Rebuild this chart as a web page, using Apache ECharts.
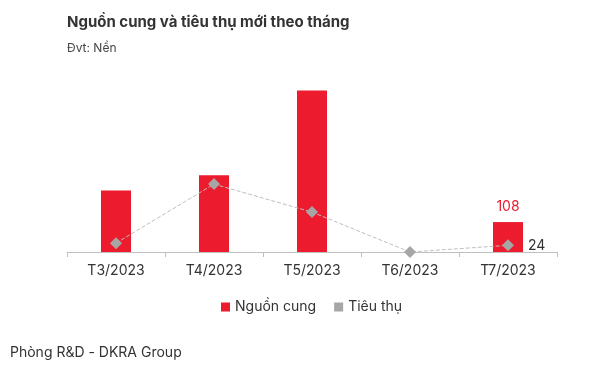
<!DOCTYPE html>
<html><head><meta charset="utf-8">
<script src="https://cdn.jsdelivr.net/npm/echarts@6/dist/echarts.min.js"></script>
<style>html,body{margin:0;padding:0;background:#fff}#c{width:606px;height:379px}</style>
</head><body><div id="c"></div>
<script>
const categories = ['T3/2023','T4/2023','T5/2023','T6/2023','T7/2023'];
const supply = [222, 277, 583, 0, 108];
const consumption = [32, 245, 144, 0, 24];
const labelIndex = 4;

const chart = echarts.init(document.getElementById('c'), null, {renderer:'canvas'});
const F = 'Inter, "Noto Sans", sans-serif';
chart.setOption({
  animation:false,
  textStyle:{fontFamily:F},
  title:[
    {text:'Nguồn cung và tiêu thụ mới theo tháng', left:62, top:10, textStyle:{fontFamily:F,fontSize:15,fontWeight:'bold',color:'#333'}},
    {text:'Đvt: Nền', left:62, top:37, textStyle:{fontFamily:F,fontSize:12,fontWeight:'normal',color:'#444'}},
    {text:'Phòng R&D - DKRA Group', left:5, top:341, textStyle:{fontFamily:F,fontSize:14,fontWeight:'normal',color:'#333'}}
  ],
  legend:{
    top:295, left:216, itemWidth:9, itemHeight:9, itemGap:18,
    icon:'rect',
    textStyle:{fontFamily:F,fontSize:14,color:'#333'},
    data:[{name:'Nguồn cung',icon:'rect'},{name:'Tiêu thụ',icon:'rect'}]
  },
  grid:{left:67, right:49, top:58, bottom:127},
  xAxis:{
    type:'category', data:categories,
    axisLine:{lineStyle:{color:'#bfbfbf'}},
    axisTick:{show:true, lineStyle:{color:'#bfbfbf'}},
    axisLabel:{fontFamily:F,fontSize:14,color:'#333',margin:12}
  },
  yAxis:{type:'value', min:0, max:700, show:false, splitLine:{show:false}},
  series:[
    {name:'Nguồn cung', type:'bar', barWidth:30, itemStyle:{color:'#ED1B2E'},
     data: supply.map((v,i)=> i===labelIndex ? {value:v,label:{show:true,position:'top',distance:8,color:'#ED1B2E',fontFamily:F,fontSize:14}} : v)},
    {name:'Tiêu thụ', type:'line', symbol:'diamond', symbolSize:12,
     itemStyle:{color:'#A6A6A6'}, lineStyle:{color:'#BFBFBF',width:1,type:[4,2]},
     data: consumption.map((v,i)=> i===labelIndex ? {value:v,label:{show:true,position:'right',distance:14,color:'#333',fontFamily:F,fontSize:14}} : v)}
  ]
});
</script></body></html>
